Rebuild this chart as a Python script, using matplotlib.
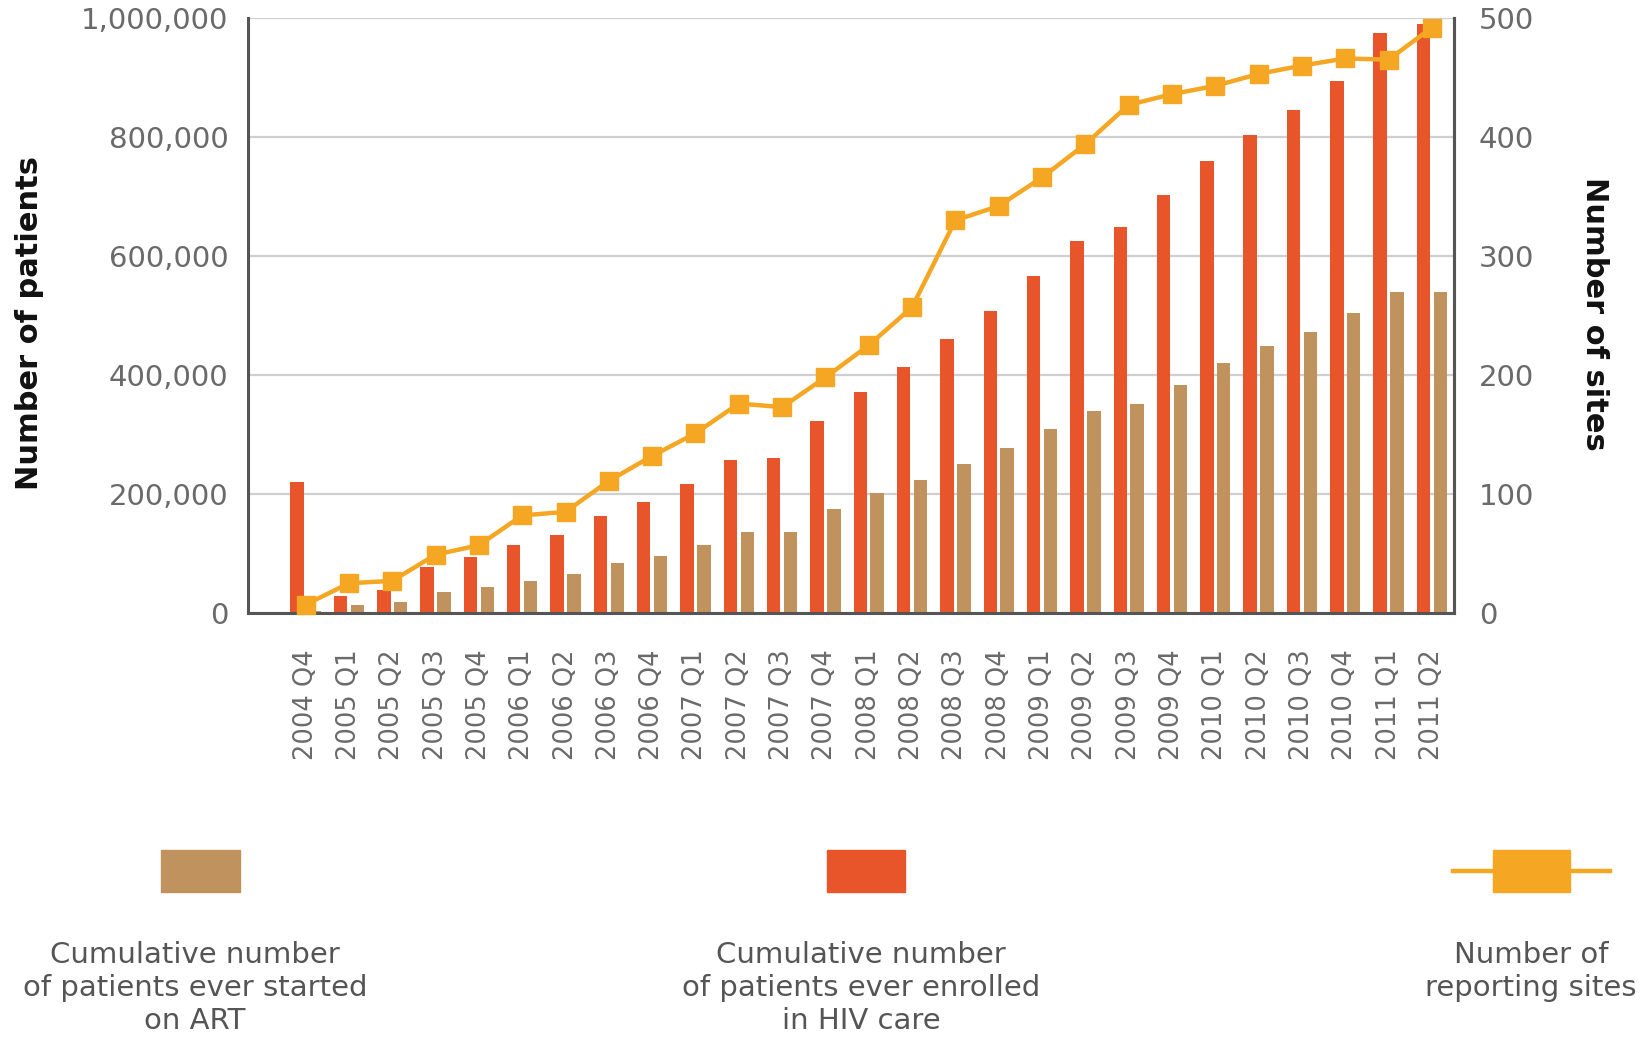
import matplotlib
matplotlib.use("Agg")
import matplotlib.pyplot as plt
from matplotlib.patches import Rectangle
from matplotlib.lines import Line2D
import numpy as np

quarters = ["2004 Q4",
            "2005 Q1", "2005 Q2", "2005 Q3", "2005 Q4",
            "2006 Q1", "2006 Q2", "2006 Q3", "2006 Q4",
            "2007 Q1", "2007 Q2", "2007 Q3", "2007 Q4",
            "2008 Q1", "2008 Q2", "2008 Q3", "2008 Q4",
            "2009 Q1", "2009 Q2", "2009 Q3", "2009 Q4",
            "2010 Q1", "2010 Q2", "2010 Q3", "2010 Q4",
            "2011 Q1", "2011 Q2"]
enrolled = [221000, 29000, 38000, 77000, 94000, 115000, 131000, 163000, 186000,
            217000, 257000, 261000, 322000, 372000, 414000, 460000, 508000,
            566000, 625000, 648000, 703000, 760000, 804000, 846000, 894000,
            975000, 990000]
art = [3000, 13000, 18000, 35000, 44000, 54000, 65000, 84000, 95000, 115000,
       136000, 136000, 174000, 202000, 224000, 250000, 278000, 309000, 339000,
       352000, 384000, 420000, 448000, 473000, 504000, 540000, 540000]
sites = [7, 25, 27, 49, 57, 82, 85, 111, 132, 151, 176, 173, 198, 225, 257,
         330, 342, 366, 394, 427, 436, 443, 453, 460, 466, 465, 492]
left_ticks = [0, 200000, 400000, 600000, 800000, 1000000]
right_ticks = [0, 100, 200, 300, 400, 500]
legend_labels = ["Cumulative number\nof patients ever started\non ART",
                 "Cumulative number\nof patients ever enrolled\nin HIV care",
                 "Number of\nreporting sites"]

RED = "#E8552B"
TAN = "#C0925E"
ORANGE = "#F5A623"
GRID = "#CFCFCF"
SPINE = "#555555"
TICK = "#6A6A6A"

W, H = 1650, 1043
fig = plt.figure(figsize=(W / 100, H / 100), dpi=100)
ax = fig.add_axes([248 / W, 1 - 613 / H, (1454 - 248) / W, (613 - 18) / H])
ax2 = ax.twinx()

x = np.arange(len(quarters))
bw = 0.31
off = 0.195
ax.bar(x - off, enrolled, width=bw, color=RED, zorder=2)
ax.bar(x + off, art, width=bw, color=TAN, zorder=2)

ax.set_ylim(0, 1000000)
ax.set_xlim(-1.33, 26.51)
ax.set_yticks(left_ticks)
ax.set_yticklabels([f"{v:,}" for v in left_ticks])
ax.yaxis.grid(True, color=GRID, linewidth=1.6, zorder=0)
ax.set_axisbelow(True)
ax.set_xticks(x)
ax.set_xticklabels(quarters, rotation=90, va="top", ha="center")
ax.tick_params(axis="x", length=0, pad=26, labelsize=18.5, labelcolor=TICK)
ax.tick_params(axis="y", length=0, pad=14, labelsize=21, labelcolor=TICK)
ax.spines["top"].set_visible(False)
for s in ["left", "bottom", "right"]:
    ax.spines[s].set_color(SPINE)
    ax.spines[s].set_linewidth(2.2)

ax2.plot(x, sites, color=ORANGE, linewidth=3.2, marker="s", markersize=13,
         markerfacecolor=ORANGE, markeredgecolor=ORANGE, zorder=5, clip_on=False)
ax2.set_ylim(0, 500)
ax2.set_yticks(right_ticks)
ax2.tick_params(axis="y", length=0, pad=18, labelsize=21, labelcolor=TICK)
for s in ["top", "left", "bottom"]:
    ax2.spines[s].set_visible(False)
ax2.spines["right"].set_color(SPINE)
ax2.spines["right"].set_linewidth(2.2)

lab_font = dict(family="DejaVu Sans", fontweight="bold",
                fontsize=22, color="#111111")
fig.text(30 / W, 1 - 323 / H, "Number of patients", rotation=90,
         ha="center", va="center", **lab_font)
fig.text(1594 / W, 1 - 314 / H, "Number of sites", rotation=-90,
         ha="center", va="center", **lab_font)

# legend
fig.add_artist(Rectangle((161 / W, 1 - 892 / H), 79 / W, 42 / H,
                         transform=fig.transFigure, color=TAN))
fig.add_artist(Rectangle((827 / W, 1 - 892 / H), 78 / W, 42 / H,
                         transform=fig.transFigure, color=RED))
fig.add_artist(Line2D([1453 / W, 1610 / W], [1 - 871 / H, 1 - 871 / H],
                      transform=fig.transFigure, color=ORANGE, linewidth=3.2))
fig.add_artist(Rectangle((1493 / W, 1 - 892 / H), 77 / W, 42 / H,
                         transform=fig.transFigure, color=ORANGE))

for cx, txt in zip([195, 861, 1531], legend_labels):
    fig.text(cx / W, 1 - 941 / H, txt, ha="center", va="top", fontsize=21,
             color="#555555", linespacing=1.22)

fig.savefig("out.png", dpi=100, facecolor="white")
